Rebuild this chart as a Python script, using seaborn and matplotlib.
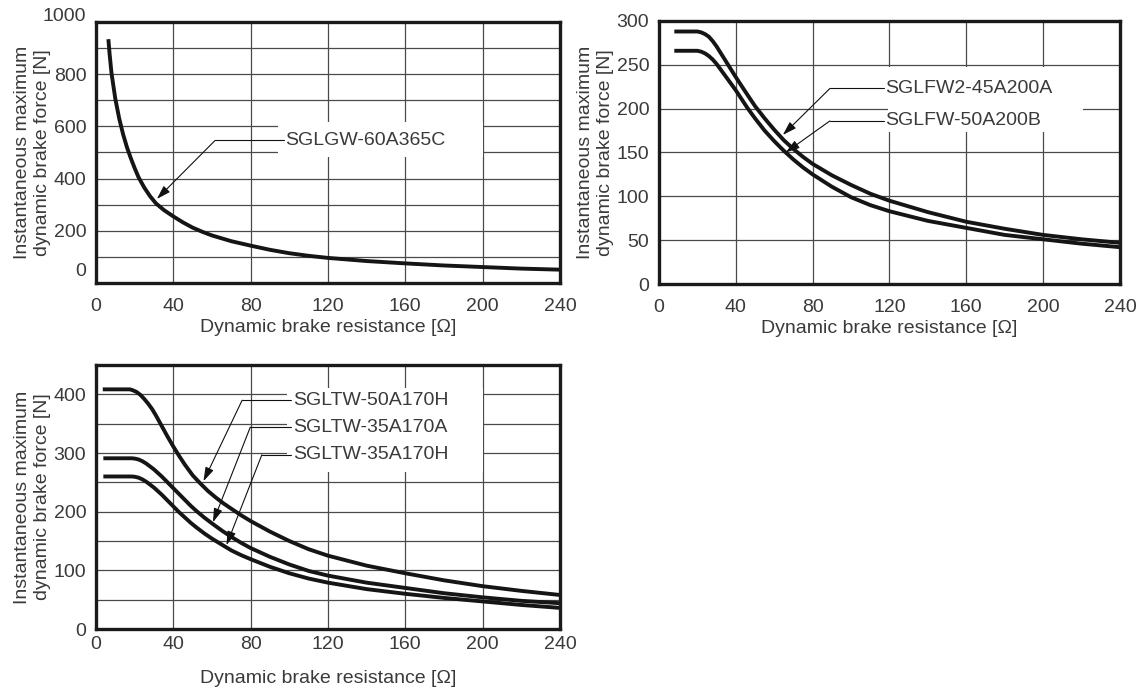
import numpy as np
import pandas as pd
import seaborn as sns
import matplotlib.pyplot as plt
from matplotlib.ticker import MultipleLocator
from matplotlib.patches import Rectangle

# --- data ---
# SGLGW-60A365C
gw_r = [6.4, 7, 8, 9, 10, 12, 14, 16, 18, 20, 22, 25, 28, 31, 35, 40, 45, 50, 55, 60,
        70, 80, 90, 100, 110, 120, 140, 160, 180, 200, 220, 240]
gw_f = [934, 880, 805, 755, 705, 630, 570, 520, 478, 440, 405, 365, 332, 305, 280, 255, 232, 212, 196, 182,
        160, 143, 127, 114, 104, 96, 84, 75, 67, 61, 55, 51]

# SGLFW2-45A200A / SGLFW-50A200B
fw2_r = [8, 20, 22, 24, 26, 28, 30, 32, 34, 36, 38, 40, 43, 46, 50, 55, 60, 65, 70, 75, 80,
         90, 100, 110, 120, 140, 160, 180, 200, 220, 240]
fw2_f = [288, 288, 287, 285, 282, 277, 271, 264, 257, 250, 243, 236, 226, 216, 203, 189, 176, 164, 154, 145, 137,
         124, 113, 103, 95, 82, 71, 63, 56, 51, 47]
fw_r = [8, 20, 22, 24, 26, 28, 30, 32, 34, 36, 38, 40, 43, 46, 50, 55, 60, 65, 70, 75, 80,
        90, 100, 110, 120, 140, 160, 180, 200, 220, 240]
fw_f = [266, 266, 265, 263, 260, 256, 251, 245, 239, 233, 227, 221, 211, 201, 189, 175, 163, 152, 142, 133, 125,
        111, 99, 90, 83, 72, 64, 56, 51, 46, 42]

# SGLTW-50A170H / SGLTW-35A170A / SGLTW-35A170H
tw50h_r = [3.5, 17.5, 19, 21, 23, 25, 27, 29, 31, 33, 35, 37, 40, 43, 46, 50, 54, 58, 62, 66, 70, 75, 80,
           90, 100, 110, 120, 140, 160, 180, 200, 220, 240]
tw50h_f = [408.5, 408.5, 407, 404, 399, 392, 384, 375, 364, 352, 340, 328, 311, 295, 280, 262, 248, 235, 224, 214, 205, 194, 184,
           166, 150, 136, 125, 108, 95, 83, 73, 65, 58]
tw35a_r = [3.8, 18.5, 20, 22, 24, 26, 28, 30, 32, 34, 37, 40, 43, 46, 49, 52, 56, 60, 65, 70, 75, 80,
           90, 100, 110, 120, 140, 160, 180, 200, 220, 240]
tw35a_f = [291, 291, 290.5, 289, 286, 282, 277, 272, 266, 260, 250, 240, 230, 220, 210, 201, 190, 180, 168, 157, 147, 138,
           123, 110, 99, 91, 79, 70, 61, 54, 48, 44]
tw35h_r = [3.8, 18.5, 20, 22, 24, 26, 28, 30, 32, 34, 37, 40, 43, 46, 49, 52, 56, 60, 65, 70, 75, 80,
           90, 100, 110, 120, 140, 160, 180, 200, 220, 240]
tw35h_f = [260, 260, 259.5, 258, 255, 251, 246, 241, 235, 229, 219, 209, 199, 190, 181, 173, 163, 154, 144, 134, 126, 119,
           106, 95, 86, 79, 68, 60, 53, 47, 41, 36]

x_ticks = [0, 40, 80, 120, 160, 200, 240]

sns.set_theme(style='white')
plt.rcParams['font.family'] = ['Liberation Sans', 'DejaVu Sans']

TEXT = '#3a3a3a'
FS = 14
XLABEL = 'Dynamic brake resistance [\u03a9]'
YLABEL = 'Instantaneous maximum\ndynamic brake force [N]'


def make_df(curves):
    frames = [pd.DataFrame({'resistance': r, 'force': f, 'model': name})
              for name, (r, f) in curves.items()]
    return pd.concat(frames, ignore_index=True)


def draw_panel(ax, curves, ymax, yticks, ygrid, xpad, xlabelpad):
    df = make_df(curves)
    sns.lineplot(data=df, x='resistance', y='force', hue='model', units='model',
                 estimator=None, sort=False, legend=False,
                 palette={k: '#151515' for k in curves}, linewidth=2.8,
                 solid_joinstyle='round', solid_capstyle='butt', ax=ax, zorder=3)
    ax.set_xlim(0, 240)
    ax.set_ylim(0, ymax)
    ax.set_xticks(x_ticks)
    ax.set_yticks(yticks)
    ax.yaxis.set_minor_locator(MultipleLocator(ygrid))
    ax.grid(True, which='both', color='#4a4a4a', lw=0.9)
    ax.tick_params(which='both', length=0, labelsize=FS, labelcolor=TEXT)
    ax.tick_params(axis='x', pad=xpad)
    ax.tick_params(axis='y', pad=7)
    for s in ax.spines.values():
        s.set_linewidth(2.4)
        s.set_color('#1a1a1a')
        s.set_zorder(6)
    ax.set_xlabel(XLABEL, fontsize=FS, color=TEXT, labelpad=xlabelpad)
    ax.set_ylabel(YLABEL, fontsize=FS, color=TEXT, labelpad=2)


def label_box(ax, x0, y0, x1, y1):
    ax.add_patch(Rectangle((x0, y0), x1 - x0, y1 - y0, facecolor='white',
                           edgecolor='none', zorder=2))


def leader(ax, text, tip, bend, tx):
    ax.plot([bend[0], tx - 1], [bend[1], bend[1]], color='#111111', lw=0.8, zorder=4)
    ax.annotate('', xy=tip, xytext=bend,
                arrowprops=dict(arrowstyle='-|>,head_length=0.7,head_width=0.22',
                                color='#111111', lw=0.8, shrinkA=0, shrinkB=0),
                zorder=4)
    ax.text(tx, bend[1], text, ha='left', va='center', fontsize=FS,
            color=TEXT, zorder=5)


fig = plt.figure(figsize=(11.47, 6.9), dpi=100)

# top left
ax1 = fig.add_axes([0.0837, 0.5899, 0.4045, 0.3783])
draw_panel(ax1, {'SGLGW-60A365C': (gw_r, gw_f)}, 1000,
           [0, 200, 400, 600, 800, 1000], 100, 11, 3)
ax1.set_yticks([0, 200, 400, 600, 800, 1000], ['', '200', '400', '600', '800', ''])
ax1.annotate('0', xy=(0, 0), xycoords=('axes fraction', 'data'), xytext=(-7, 8),
             textcoords='offset points', ha='right', va='center', fontsize=FS, color=TEXT)
ax1.annotate('1000', xy=(0, 1000), xycoords=('axes fraction', 'data'), xytext=(-7, 4),
             textcoords='offset points', ha='right', va='center', fontsize=FS, color=TEXT)
label_box(ax1, 94, 483, 200, 617)
leader(ax1, 'SGLGW-60A365C', (31.5, 322), (61.6, 546), 98)

# top right
ax2 = fig.add_axes([0.5745, 0.5884, 0.4019, 0.3812])
draw_panel(ax2, {'SGLFW2-45A200A': (fw2_r, fw2_f), 'SGLFW-50A200B': (fw_r, fw_f)}, 300,
           [0, 50, 100, 150, 200, 250, 300], 50, 11, 3)
label_box(ax2, 119, 173, 221, 248)
leader(ax2, 'SGLFW2-45A200A', (64.5, 170), (89, 223), 118)
leader(ax2, 'SGLFW-50A200B', (66, 150), (89, 186), 118)

# bottom left
ax3 = fig.add_axes([0.0837, 0.0884, 0.4045, 0.3826])
draw_panel(ax3, {'SGLTW-50A170H': (tw50h_r, tw50h_f), 'SGLTW-35A170A': (tw35a_r, tw35a_f),
                 'SGLTW-35A170H': (tw35h_r, tw35h_f)}, 450,
           [0, 100, 200, 300, 400], 50, 5, 12)
label_box(ax3, 99, 268, 200, 411)
leader(ax3, 'SGLTW-50A170H', (55.6, 252), (75.6, 390), 102)
leader(ax3, 'SGLTW-35A170A', (60.5, 182), (79.8, 344), 102)
leader(ax3, 'SGLTW-35A170H', (67.5, 143), (85.8, 297), 102)

fig.savefig('out.png', dpi=100)
